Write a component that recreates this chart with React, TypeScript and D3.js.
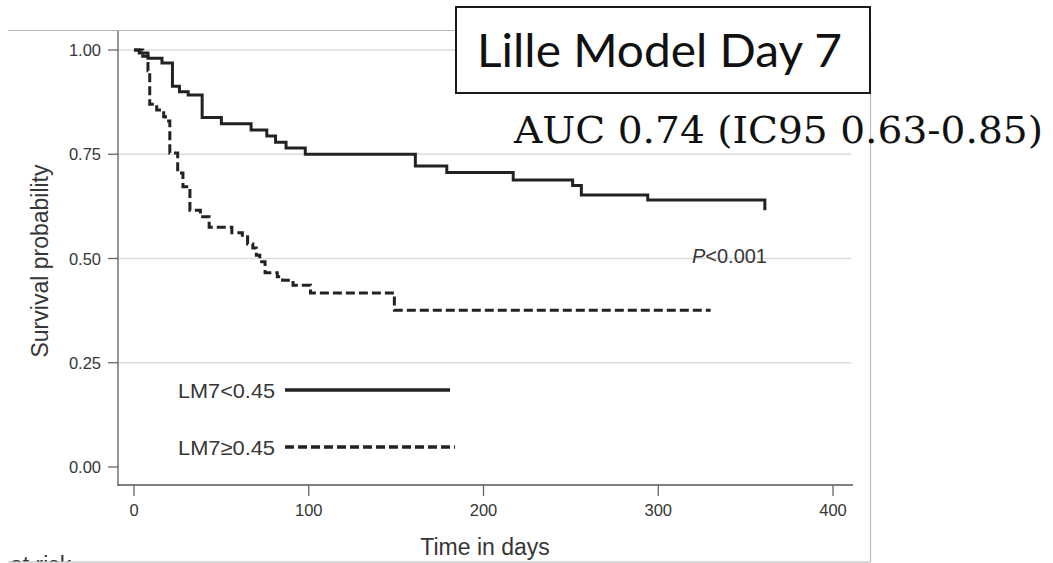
import React from 'react';
import * as d3 from 'd3';

// Kaplan-Meier steps
const solidTimes = [0, 3, 8, 16, 22, 26, 31, 39, 50, 67, 76, 81, 87, 98, 161, 179, 217, 251, 256, 294, 361];
const solidSurv = [1.0, 0.993, 0.98, 0.969, 0.913, 0.9, 0.892, 0.838, 0.823, 0.808, 0.794, 0.779, 0.765, 0.75, 0.722, 0.706, 0.688, 0.675, 0.652, 0.64, 0.616];

const dashedTimes = [0, 5, 8, 9, 13, 17, 18, 20.5, 25, 28, 32, 38, 43, 56, 62, 65, 68, 70, 72, 75, 82, 85, 91, 101, 149, 330];
const dashedSurv = [1.0, 0.985, 0.95, 0.87, 0.856, 0.84, 0.83, 0.753, 0.705, 0.672, 0.616, 0.6, 0.575, 0.562, 0.552, 0.535, 0.525, 0.508, 0.492, 0.466, 0.456, 0.448, 0.436, 0.417, 0.376, 0.376];

const yTicks = [0, 0.25, 0.5, 0.75, 1];
const yTickLabels = ['0.00', '0.25', '0.50', '0.75', '1.00'];
const gridValues = [0.25, 0.5, 0.75, 1];
const xTicks = [0, 100, 200, 300, 400];
const legendLabels = ['LM7<0.45', 'LM7\u22650.45'];
const titleText = 'Lille Model Day 7';
const aucText = 'AUC 0.74 (IC95 0.63-0.85)';
const xTitle = 'Time in days';
const yTitle = 'Survival probability';
const pPrefix = 'P';
const pRest = '<0.001';
const atRisk = 'at risk';

const SANS = '"Liberation Sans", Arial, Helvetica, sans-serif';
const INK = '#222';
const TXT = '#363636';

export default function App() {
  const x = d3.scaleLinear().domain([0, 400]).range([134, 833]);
  const y = d3.scaleLinear().domain([0, 1]).range([467, 50]);

  const line = d3
    .line<[number, number]>()
    .x((d) => x(d[0]))
    .y((d) => y(d[1]))
    .curve(d3.curveStepAfter);

  const solidPts: [number, number][] = solidTimes.map((t, i) => [t, solidSurv[i]]);
  const dashedPts: [number, number][] = dashedTimes.map((t, i) => [t, dashedSurv[i]]);

  const axisX = 118;
  const axisY = 485;
  const plotRight = 851;

  return (
    <svg
      width={1053}
      height={563}
      style={{ position: 'absolute', left: 0, top: 0, background: '#fff' }}
    >
      <defs>
        <clipPath id="clipBottom">
          <rect x={0} y={0} width={1053} height={561.5} />
        </clipPath>
      </defs>
      <rect x={0} y={0} width={1053} height={563} fill="#fff" />

      {/* outer frame */}
      <line x1={8} x2={870} y1={30.5} y2={30.5} stroke="#b5b5b5" strokeWidth={1.2} />
      <line x1={870.5} x2={870.5} y1={30} y2={562} stroke="#bdbdbd" strokeWidth={1.2} />
      <line x1={8} x2={870} y1={562} y2={562} stroke="#b5b5b5" strokeWidth={1.2} />

      {/* gridlines */}
      {gridValues.map((v) => (
        <line key={'g' + v} x1={axisX} x2={plotRight} y1={y(v)} y2={y(v)} stroke="#dcdcdc" strokeWidth={1.3} />
      ))}

      {/* y axis */}
      <line x1={axisX} x2={axisX} y1={31} y2={axisY + 1} stroke="#8a8a8a" strokeWidth={1.8} />
      {yTicks.map((v, i) => (
        <g key={'yt' + v}>
          <line x1={axisX - 10} x2={axisX} y1={y(v)} y2={y(v)} stroke="#666" strokeWidth={1.3} />
          <text x={101} y={y(v) + 6} textAnchor="end" fontFamily={SANS} fontSize={16.5} fill={TXT}>
            {yTickLabels[i]}
          </text>
        </g>
      ))}

      {/* x axis */}
      <line x1={axisX} x2={853} y1={axisY} y2={axisY} stroke="#555" strokeWidth={1.6} />
      {xTicks.map((v) => (
        <g key={'xt' + v}>
          <line x1={x(v)} x2={x(v)} y1={axisY} y2={axisY + 11} stroke="#666" strokeWidth={1.3} />
          <text x={x(v)} y={516} textAnchor="middle" fontFamily={SANS} fontSize={16.5} fill={TXT}>
            {v}
          </text>
        </g>
      ))}

      {/* axis titles */}
      <text x={485} y={555} textAnchor="middle" fontFamily={SANS} fontSize={23} fill={TXT}>
        {xTitle}
      </text>
      <text
        transform="translate(48,261) rotate(-90)"
        textAnchor="middle"
        fontFamily={SANS}
        fontSize={23}
        fill={TXT}
      >
        {yTitle}
      </text>

      {/* curves */}
      <path d={line(dashedPts) || ''} fill="none" stroke={INK} strokeWidth={3} strokeDasharray="9,4" />
      <path d={line(solidPts) || ''} fill="none" stroke={INK} strokeWidth={3} />

      {/* p value */}
      <text x={767} y={263} textAnchor="end" fontFamily={SANS} fontSize={20} fill={TXT}>
        <tspan fontStyle="italic">{pPrefix}</tspan>
        <tspan>{pRest}</tspan>
      </text>

      {/* legend */}
      <text x={275} y={398} textAnchor="end" fontFamily={SANS} fontSize={21} fill={TXT} textLength={97} lengthAdjust="spacingAndGlyphs">
        {legendLabels[0]}
      </text>
      <line x1={285} x2={450} y1={390} y2={390} stroke={INK} strokeWidth={3.5} />
      <text x={275} y={455} textAnchor="end" fontFamily={SANS} fontSize={21} fill={TXT} textLength={97} lengthAdjust="spacingAndGlyphs">
        {legendLabels[1]}
      </text>
      <line x1={285} x2={455} y1={447} y2={447} stroke={INK} strokeWidth={3.5} strokeDasharray="9,4" />

      {/* at risk (cut off at the bottom, as in the reference) */}
      <g clipPath="url(#clipBottom)">
        <text x={10} y={573} fontFamily={SANS} fontSize={23} fill={TXT}>
          {atRisk}
        </text>
      </g>

      {/* title box */}
      <rect x={456} y={7} width={414} height={86} fill="#fff" stroke="#1a1a1a" strokeWidth={2} />
      <text
        x={477}
        y={67}
        fontFamily='Lato, "Open Sans", sans-serif'
        fontSize={46}
        fill="#111"
        textLength={365}
        lengthAdjust="spacingAndGlyphs"
      >
        {titleText}
      </text>
      <text
        x={514}
        y={143}
        fontFamily='"DejaVu Serif", "Liberation Serif", serif'
        fontSize={38}
        fill="#111"
        textLength={529}
        lengthAdjust="spacingAndGlyphs"
      >
        {aucText}
      </text>
    </svg>
  );
}
